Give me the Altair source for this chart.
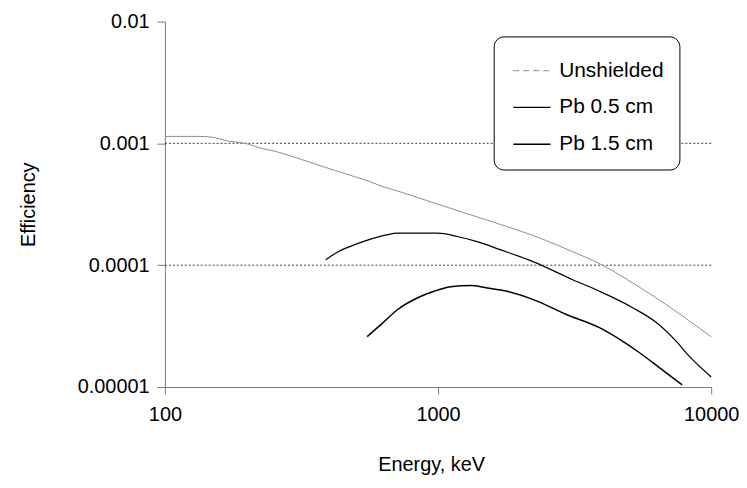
import altair as alt
import pandas as pd

series_names = ["Unshielded", "Pb 0.5 cm", "Pb 1.5 cm"]
series_colors = ["#8c8c8c", "#000000", "#000000"]
series_widths = [1.0, 1.5, 2.6]

unsh_E = [100, 132, 146, 172, 197, 227, 253, 317, 418, 555, 635, 732, 1000,
          1515, 2361, 3111, 3900, 5140, 6830, 10000]
unsh_eff = [0.00114, 0.00114, 0.00113, 0.00104, 0.00100, 0.000906, 0.000861,
            0.000736, 0.000600, 0.000490, 0.000438, 0.000398, 0.000316,
            0.000234, 0.000167, 0.000129, 0.000103, 0.0000719, 0.0000476,
            0.0000258]

pb05_E = [388, 431, 510, 578, 646, 712, 995, 1176, 1391, 1690, 2227, 3111,
          3900, 5140, 6281, 7424, 8289, 10000]
pb05_eff = [0.000111, 0.000129, 0.000151, 0.000166, 0.000177, 0.000183,
            0.000183, 0.000172, 0.000156, 0.000134, 0.000107, 0.0000760,
            0.0000611, 0.0000450, 0.0000340, 0.0000239, 0.0000180, 0.0000121]

pb15_E = [550, 619, 712, 842, 967, 1112, 1315, 1512, 1787, 2232, 2951, 3900,
          4610, 5450, 6442, 7828]
pb15_eff = [0.0000259, 0.0000327, 0.0000433, 0.0000540, 0.0000611, 0.0000664,
            0.0000680, 0.0000650, 0.0000611, 0.0000522, 0.0000394, 0.0000307,
            0.0000247, 0.0000192, 0.0000145, 0.0000104]

grid_values = [0.001, 0.0001]
x_ticks = [100, 1000, 10000]
y_ticks = [0.00001, 0.0001, 0.001, 0.01]

rows = []
for name, es, vs in zip(series_names, [unsh_E, pb05_E, pb15_E],
                        [unsh_eff, pb05_eff, pb15_eff]):
    for i, (e, v) in enumerate(zip(es, vs)):
        rows.append({"series": name, "energy": e, "eff": v, "order": i})
df = pd.DataFrame(rows)
grid_df = pd.DataFrame({"eff": grid_values})

FONT = "Liberation Sans"
xscale = alt.Scale(type="log", domain=[100, 10000])
yscale = alt.Scale(type="log", domain=[0.00001, 0.01])

y_axis = alt.Axis(
    values=y_ticks,
    format=".5~f",
    title="Efficiency",
    grid=False,
    tickSize=8,
    labelPadding=8,
    titlePadding=39,
)
x_axis = alt.Axis(
    values=x_ticks,
    format="d",
    title="Energy, keV",
    grid=False,
    tickSize=7,
    labelPadding=11,
    titlePadding=30,
    titleX=268,
    labelFlush=False,
)

legend = alt.Legend(
    title=None,
    orient="none",
    legendX=331,
    legendY=15,
    symbolType="stroke",
    symbolSize=1400,
    symbolOffset=4,
    symbolDash=alt.ExprRef(
        "datum.value === 'Unshielded' ? [6, 4] : [1, 0]"
    ),
    symbolStrokeWidth=alt.ExprRef(
        "datum.value === 'Pb 1.5 cm' ? 2.2 : (datum.value === 'Unshielded' ? 1.2 : 1.5)"
    ),
    labelFont=FONT,
    labelFontSize=21,
    labelColor="#000000",
    labelOffset=8,
    rowPadding=7,
    padding=15,
    strokeColor="#000000",
    fillColor="#ffffff",
    cornerRadius=10,
)

grid = alt.Chart(grid_df).mark_rule(
    color="#404040", strokeWidth=1, strokeDash=[2, 2]
).encode(y=alt.Y("eff:Q", scale=yscale, axis=y_axis))

lines = alt.Chart(df).mark_line(interpolate="monotone").encode(
    x=alt.X("energy:Q", scale=xscale, axis=x_axis),
    y=alt.Y("eff:Q", scale=yscale, axis=y_axis),
    color=alt.Color(
        "series:N",
        scale=alt.Scale(domain=series_names, range=series_colors),
        legend=legend,
    ),
    strokeWidth=alt.StrokeWidth(
        "series:N",
        scale=alt.Scale(domain=series_names, range=series_widths),
        legend=None,
    ),
    order="order:Q",
)

chart = (
    alt.layer(grid, lines)
    .properties(
        width=550,
        height=368,
        autosize=alt.AutoSizeParams(type="none"),
        padding={"left": 158, "top": 12, "right": 28, "bottom": 92},
    )
    .configure_view(stroke=None)
    .configure_axis(
        labelFont=FONT,
        titleFont=FONT,
        labelFontSize=20,
        titleFontSize=20,
        titleFontWeight="normal",
        labelColor="#000000",
        titleColor="#000000",
        domainColor="#7a7a7a",
        tickColor="#7a7a7a",
        domainWidth=1,
        tickWidth=1,
    )
)

chart.save("out.html", embed_options={"renderer": "svg", "actions": False})
